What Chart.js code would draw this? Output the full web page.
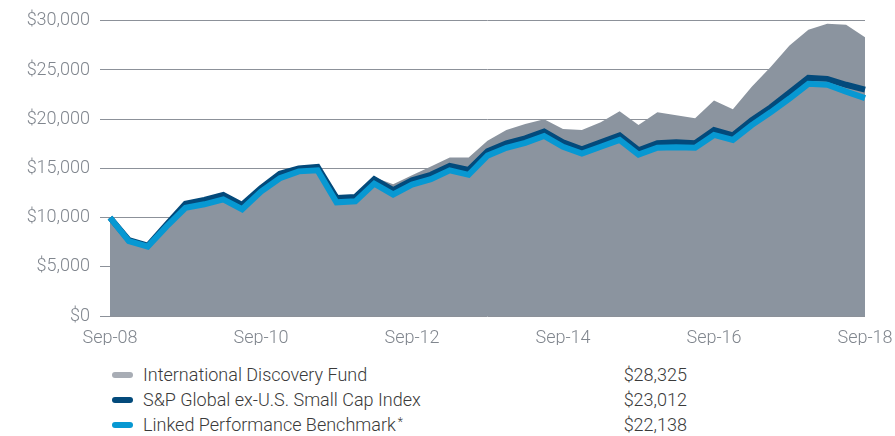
<!DOCTYPE html>
<html>
<head>
<meta charset="utf-8">
<script src="https://cdn.jsdelivr.net/npm/chart.js@4"></script>
<style>
  html, body { margin: 0; padding: 0; background: #fff; }
  #wrap { position: relative; width: 895px; height: 436px; overflow: hidden; }
  #chartBox { position: absolute; left: 0; top: 0; width: 895px; height: 345px; }
  .leg { position: absolute; left: 0; font-family: Roboto, 'Liberation Sans', sans-serif; font-weight: 300; font-size: 18px; color: #3a3a3a; height: 24px; line-height: 24px; }
  .sw { position: absolute; left: 112px; top: 9px; width: 21px; height: 6px; border-radius: 3px; }
  .name { position: absolute; left: 143px; white-space: nowrap; }
  .star { position: relative; top: -5px; font-size: 12px; margin-left: 2px; }
  .val { position: absolute; left: 560px; width: 127px; text-align: right; }
</style>
</head>
<body>
<div id="wrap">
  <div id="chartBox"><canvas id="growthChart"></canvas></div>
  <div id="legend"></div>
</div>
<script>
// === GROWTH OF $10,000 ===

const quarters = [
  'Sep-08','Dec-08','Mar-09','Jun-09','Sep-09','Dec-09','Mar-10','Jun-10',
  'Sep-10','Dec-10','Mar-11','Jun-11','Sep-11','Dec-11','Mar-12','Jun-12',
  'Sep-12','Dec-12','Mar-13','Jun-13','Sep-13','Dec-13','Mar-14','Jun-14',
  'Sep-14','Dec-14','Mar-15','Jun-15','Sep-15','Dec-15','Mar-16','Jun-16',
  'Sep-16','Dec-16','Mar-17','Jun-17','Sep-17','Dec-17','Mar-18','Jun-18',
  'Sep-18'
];

const fundValues = [
  10000, 7500, 6950, 9000, 10900, 11200, 11700, 10700,
  12500, 13800, 14500, 14600, 11500, 11700, 14100, 13400,
  14300, 15200, 16100, 16100, 17800, 18900, 19500, 20000,
  19000, 18900, 19700, 20800, 19400, 20700, 20400, 20100,
  21900, 21000, 23300, 25300, 27500, 29100, 29700, 29600,
  28325
];

const indexValues = [
  10000, 7700, 7150, 9300, 11400, 11800, 12300, 11300,
  13000, 14450, 15000, 15150, 12000, 12100, 13900, 12800,
  13800, 14350, 15250, 14850, 16750, 17550, 18050, 18750,
  17650, 16950, 17650, 18350, 16850, 17550, 17650, 17550,
  18900, 18350, 19900, 21200, 22700, 24200, 24100, 23500,
  23012
];

const benchmarkValues = [
  10000, 7600, 7050, 9100, 11000, 11350, 11850, 10850,
  12650, 14000, 14700, 14800, 11550, 11650, 13450, 12350,
  13350, 13900, 14800, 14350, 16300, 17100, 17600, 18300,
  17200, 16500, 17200, 17900, 16400, 17100, 17150, 17100,
  18400, 17900, 19400, 20700, 22100, 23600, 23500, 22800,
  22138
];

const yTicks = [0, 5000, 10000, 15000, 20000, 25000, 30000];

const seriesNames = ['International Discovery Fund', 'S&P Global ex-U.S. Small Cap Index', 'Linked Performance Benchmark*'];
const endingValues = ['$28,325', '$23,012', '$22,138'];

const COLORS = { fund: '#8b949f', fundKey: '#a8adb5', index: '#034a7b', bench: '#0798d2', grid: '#8c9199', text: '#80868e' };
const AXIS_FONT = { family: "Roboto, 'Liberation Sans', sans-serif", size: 18, weight: '300' };

const fmtMoney = v => '$' + v.toLocaleString('en-US');

const ctx = document.getElementById('growthChart').getContext('2d');
const chart = new Chart(ctx, {
  type: 'line',
  data: {
    labels: quarters,
    datasets: [
      { label: seriesNames[2], data: benchmarkValues, borderColor: COLORS.bench, borderWidth: 6, pointRadius: 0, tension: 0, fill: false, order: 1 },
      { label: seriesNames[1], data: indexValues, borderColor: COLORS.index, borderWidth: 6, pointRadius: 0, tension: 0, fill: false, order: 2 },
      { label: seriesNames[0], data: fundValues, borderColor: COLORS.fund, backgroundColor: COLORS.fund, borderWidth: 0, pointRadius: 0, tension: 0, fill: 'origin', order: 3 }
    ]
  },
  options: {
    responsive: true, maintainAspectRatio: false, animation: false,
    layout: { padding: { top: 18, right: 30, left: 0, bottom: 0 } },
    plugins: { legend: { display: false }, tooltip: { enabled: false } },
    scales: {
      x: {
        grid: { display: false, drawTicks: false },
        border: { display: false },
        ticks: {
          autoSkip: false, maxRotation: 0, padding: 12, color: COLORS.text, font: AXIS_FONT,
          callback: (v, i) => (i % 8 === 0 ? quarters[i] : '')
        },
        // let the last label hang into the page margin
        afterFit: s => { s.height = 29; s.paddingRight = 0; s.paddingLeft = 0; }
      },
      y: {
        min: 0, max: 30000,
        afterBuildTicks: s => { s.ticks = yTicks.map(v => ({ value: v })); },
        grid: { color: COLORS.grid, lineWidth: 1, tickLength: 10 },
        border: { display: false },
        ticks: { padding: 10, color: COLORS.text, font: AXIS_FONT, callback: v => fmtMoney(v) },
        afterFit: s => { s.width = 110; }
      }
    }
  }
});

// legend rows below the chart
const keyColors = [COLORS.fundKey, COLORS.index, COLORS.bench];
const rowTops = [363, 388, 413];
const legend = document.getElementById('legend');
seriesNames.forEach((name, i) => {
  const row = document.createElement('div');
  row.className = 'leg';
  row.style.top = rowTops[i] + 'px';
  row.style.width = '895px';
  const safe = name.replace('&', '&amp;');
  const label = safe.endsWith('*') ? safe.slice(0, -1) + '<span class="star">*</span>' : safe;
  row.innerHTML = `<span class="sw" style="background:${keyColors[i]}"></span><span class="name">${label}</span><span class="val">${endingValues[i]}</span>`;
  legend.appendChild(row);
});
</script>
</body>
</html>
